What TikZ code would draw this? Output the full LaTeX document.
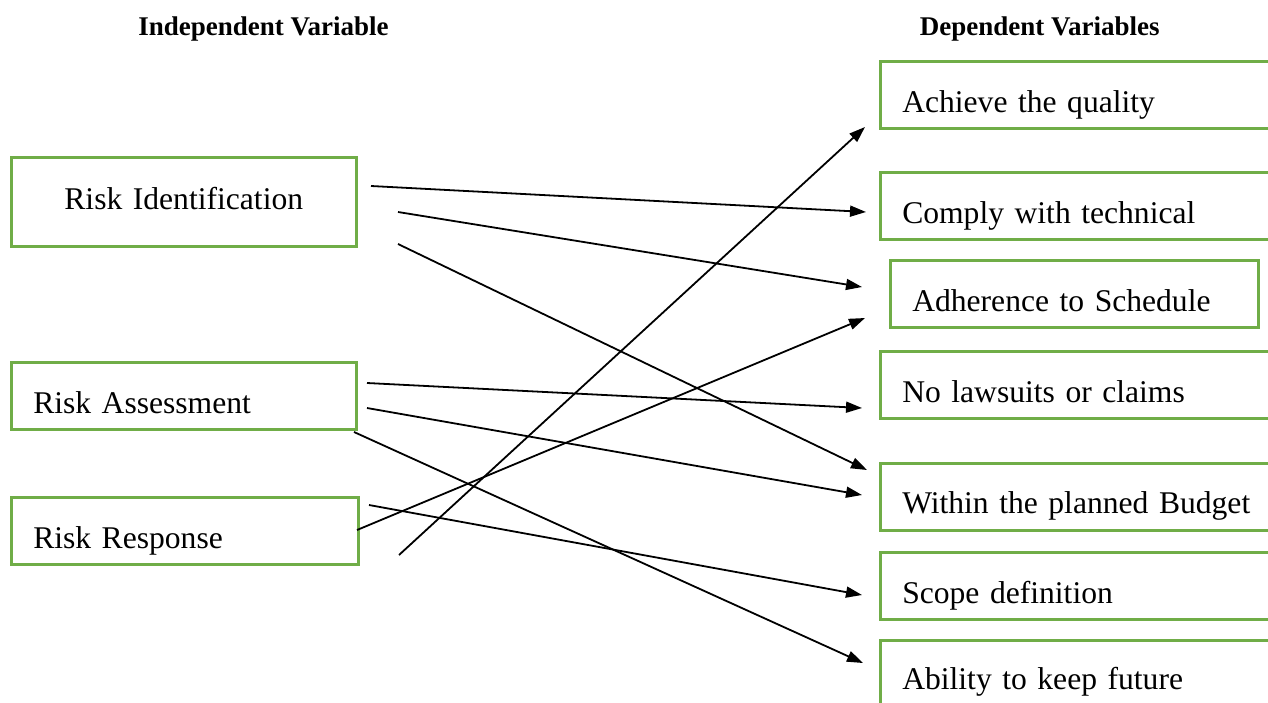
\documentclass[tikz,border=0pt]{standalone}
\usepackage{fontspec}
\setmainfont{Liberation Serif}
\usepackage{xcolor}
\usetikzlibrary{arrows.meta}
\definecolor{boxgreen}{HTML}{70AD47}

\begin{document}
\begin{tikzpicture}[x=0.5pt, y=-0.5pt,
  vbox/.style={draw=boxgreen, line width=1.25pt, anchor=north west, inner xsep=11pt,
    inner ysep=2pt, minimum height=33.5pt, text height=18pt, text depth=0pt,
    align=left, font=\fontsize{15.8}{19}\selectfont},
  head/.style={font=\fontsize{13.5}{16}\selectfont\bfseries, inner sep=0pt},
  link/.style={line width=0.9pt, -{Triangle[length=8pt, width=5.5pt]}}]

% Frame
\useasboundingbox (0,0) rectangle (1268,702);
\clip (0,0) rectangle (1268,702);

% Headings
\node[head, anchor=base west] (indep) at (138,35) {Independent Variable};
\node[head, anchor=base east] (dep) at (1160,35) {Dependent Variables};

% Independent boxes
\node[vbox, text width=150.5pt, align=center, minimum height=44.5pt, text height=7.5pt] (ident) at (10,156) {Risk Identification};
\node[vbox, text width=150.5pt] (assess) at (10,361) {Risk Assessment};
\node[vbox, text width=151.5pt] (resp) at (10,496) {Risk Response};

% Dependent boxes (open on the right, cut by the frame)
\node[vbox, text width=180pt] (quality) at (879,60) {Achieve the quality};
\node[vbox, text width=180pt] (comply) at (879,171) {Comply with technical};
\node[vbox, text width=162pt] (sched) at (889,259) {Adherence to Schedule};
\node[vbox, text width=180pt] (claims) at (879,350) {No lawsuits or claims};
\node[vbox, text width=180pt, text height=16.5pt] (budget) at (879,462) {Within the planned Budget};
\node[vbox, text width=173.5pt] (scope) at (879,551) {Scope definition};
\node[vbox, text width=180pt, text height=16pt] (future) at (879,639) {Ability to keep future};

% Arrow ends
\coordinate (id1) at (371,186);
\coordinate (id2) at (398,212);
\coordinate (id3) at (398,244);
\coordinate (as1) at (367,383);
\coordinate (as2) at (367,408);
\coordinate (as3) at (354,432);
\coordinate (re1) at (369,505);
\coordinate (re2) at (357,530);
\coordinate (re3) at (399,555);

\coordinate (toqual) at (865,127);
\coordinate (tocomp) at (866,212);
\coordinate (tosch1) at (862,287);
\coordinate (tosch2) at (865,318);
\coordinate (tocla) at (862,408);
\coordinate (tobud1) at (867,470);
\coordinate (tobud2) at (862,495);
\coordinate (tosco) at (862,595);
\coordinate (tofut) at (863,663);

% Arrows
\draw[link] (id1) -- (tocomp);
\draw[link] (id2) -- (tosch1);
\draw[link] (id3) -- (tobud1);
\draw[link] (as1) -- (tocla);
\draw[link] (as2) -- (tobud2);
\draw[link] (as3) -- (tofut);
\draw[link] (re1) -- (tosco);
\draw[link] (re2) -- (tosch2);
\draw[link] (re3) -- (toqual);

\end{tikzpicture}
\end{document}
